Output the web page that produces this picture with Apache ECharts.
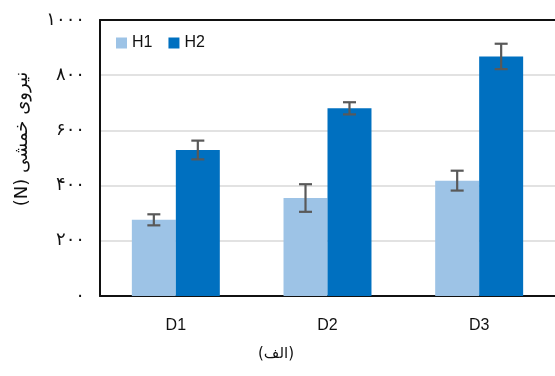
<!DOCTYPE html>
<html>
<head>
<meta charset="utf-8">
<script src="https://cdn.jsdelivr.net/npm/echarts@6/dist/echarts.min.js"></script>
<style>
  html, body { margin: 0; padding: 0; background: #fff; }
  #chart { width: 555px; height: 376px; }
</style>
</head>
<body>
<div id="chart"></div>
<script>
// Bending force per group, mean and error (N)
const categories = ['D1', 'D2', 'D3'];
const seriesNames = ['H1', 'H2'];
const h1Values = [276, 355, 418];
const h2Values = [529, 680, 868];
const h1Errors = [20, 50, 36];
const h2Errors = [34, 22, 46];
const yTicks = [0, 200, 400, 600, 800, 1000];

const colors = ['#9DC3E6', '#0070C0'];
const BAR_FRACTION = 0.29;

const persianDigits = '۰۱۲۳۴۵۶۷۸۹';
function toPersian(n) {
  return String(n).replace(/[0-9]/g, d => persianDigits[+d]);
}

function errorSeries(values, errors, idx) {
  return {
    type: 'custom',
    name: seriesNames[idx] + ' err',
    z: 10,
    silent: true,
    data: values.map((v, i) => [i, v, errors[i]]),
    renderItem: function (params, api) {
      const ci = api.value(0);
      const mean = api.value(1);
      const err = api.value(2);
      const band = api.size([1, 0])[0];
      const barW = band * BAR_FRACTION;
      const offset = (idx - 0.5) * barW;
      const top = api.coord([ci, mean + err]);
      const bot = api.coord([ci, mean - err]);
      const x = top[0] + offset;
      const cap = 6.5;
      const style = { stroke: '#595959', lineWidth: 2.2, fill: null };
      return {
        type: 'group',
        children: [
          { type: 'line', shape: { x1: x, y1: top[1], x2: x, y2: bot[1] }, style: style },
          { type: 'line', shape: { x1: x - cap, y1: top[1], x2: x + cap, y2: top[1] }, style: style },
          { type: 'line', shape: { x1: x - cap, y1: bot[1], x2: x + cap, y2: bot[1] }, style: style }
        ]
      };
    }
  };
}

const frameLine = { show: true, lineStyle: { color: '#111', width: 2 } };

const chart = echarts.init(document.getElementById('chart'), null, { renderer: 'canvas' });
chart.setOption({
  animation: false,
  backgroundColor: '#fff',
  textStyle: { fontFamily: 'Liberation Sans, Arial, sans-serif' },
  grid: { left: 100, right: -3, top: 20, bottom: 80 },
  legend: {
    data: seriesNames,
    left: 111, top: 30,
    itemWidth: 11, itemHeight: 11, itemGap: 16,
    icon: 'rect',
    textStyle: { fontSize: 16, color: '#111', fontFamily: 'Liberation Sans, Arial, sans-serif' }
  },
  xAxis: [{
    type: 'category',
    data: categories,
    position: 'bottom',
    axisLine: frameLine,
    axisTick: { show: false },
    axisLabel: { fontSize: 16, color: '#111', margin: 22 },
    splitLine: { show: false }
  }, {
    type: 'category',
    data: categories,
    position: 'top',
    axisLine: frameLine,
    axisTick: { show: false },
    axisLabel: { show: false },
    splitLine: { show: false }
  }],
  yAxis: {
    type: 'value',
    min: yTicks[0], max: yTicks[yTicks.length - 1], interval: 200,
    axisLine: frameLine,
    axisTick: { show: false },
    axisLabel: { fontSize: 18, color: '#111', margin: 15, fontFamily: 'DejaVu Sans', formatter: v => toPersian(v) },
    splitLine: { lineStyle: { color: '#d9d9d9', width: 1.5 } }
  },
  graphic: [{
    type: 'text',
    x: 22, y: 139,
    rotation: Math.PI / 2,
    style: {
      text: '(N) نیروی خمشی', fontSize: 18, fill: '#111', fontFamily: 'DejaVu Sans',
      align: 'center', verticalAlign: 'middle'
    }
  }, {
    type: 'text',
    x: 276, y: 354,
    style: {
      text: '(الف)', fontSize: 15, fill: '#111', fontFamily: 'DejaVu Sans',
      align: 'center', verticalAlign: 'middle'
    }
  }],
  series: [
    { name: 'H1', type: 'bar', data: h1Values, barWidth: (BAR_FRACTION * 100) + '%', barGap: '0%',
      itemStyle: { color: colors[0] } },
    { name: 'H2', type: 'bar', data: h2Values, barWidth: (BAR_FRACTION * 100) + '%', barGap: '0%',
      itemStyle: { color: colors[1] } },
    errorSeries(h1Values, h1Errors, 0),
    errorSeries(h2Values, h2Errors, 1)
  ]
});
</script>
</body>
</html>
